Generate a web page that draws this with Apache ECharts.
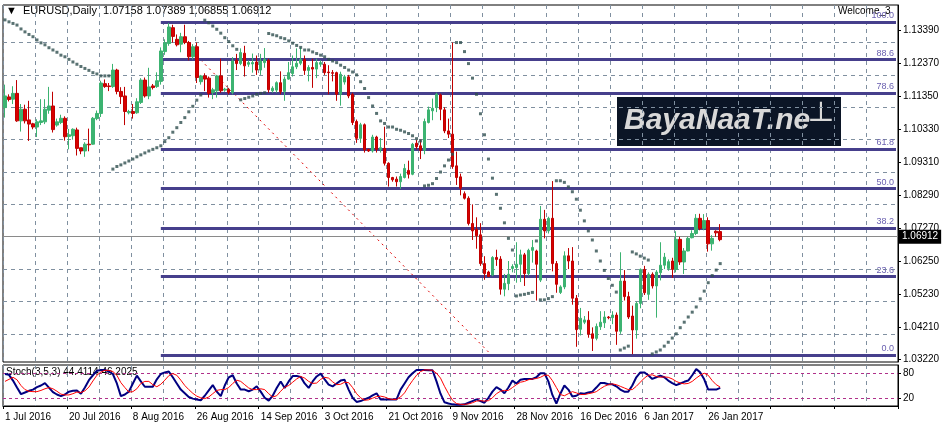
<!DOCTYPE html>
<html>
<head>
<meta charset="utf-8">
<title>EURUSD Daily</title>
<script src="https://cdn.jsdelivr.net/npm/echarts@6/dist/echarts.min.js"></script>
<style>
  html, body { margin: 0; padding: 0; background: #fff; }
  #chart { width: 945px; height: 430px; }
</style>
</head>
<body>
<div id="chart"></div>
<script>
// prices are written in pips above 1.0000 (1135 -> 1.1135)
var opens = [
  1099,1132,1125,1143,1058,1094,1061,1049,1039,1053, 1055,1091,1104,1045,1053,1066,1010,1012,1030,975,
  965,986,986,1065,1081,1173,1166,1164,1215,1149, 1135,1083,1087,1083,1115,1184,1135,1166,1164,1180,
  1272,1297,1346,1310,1295,1318,1300,1256,1287,1179, 1197,1190,1146,1151,1197,1153,1156,1146,1245,1235,
  1267,1233,1234,1240,1215,1238,1245,1151,1153,1176, 1149,1187,1204,1225,1236,1248,1214,1223,1218,1233,
  1233,1209,1207,1207,1140,1178,1194,1140,1056,1004, 1046,970,965,1008,970,973,927,883,878,870,
  883,905,893,989,981,967,1053,1089,1099,1138, 1092,1027,1017,919,885,833,819,741,723,706,
  617,591,582,636,631,538,555,602,605,615, 644,586,658,656,566,754,718,757,617,528,
  545,641,625,510,414,436,442,400,386,422, 434,452,450,458,408,563,515,455,412,494,
  599,522,584,548,589,612,602,625,599,692, 622,656,697,710,757,726,750,678,717,716
];
var closes = [
  1135,1124,1143,1058,1094,1058,1048,1039,1055,1058, 1094,1104,1031,1055,1066,1009,1015,1032,973,965,
  986,984,1066,1081,1175,1164,1164,1215,1149,1133, 1087,1087,1081,1117,1184,1135,1163,1161,1182,1274,
  1299,1348,1319,1293,1318,1300,1256,1287,1192,1197, 1187,1143,1154,1197,1151,1156,1146,1243,1235,1269,
  1228,1238,1238,1215,1243,1248,1154,1159,1176,1148, 1187,1207,1225,1236,1248,1214,1223,1218,1238,1238,
  1207,1207,1205,1140,1202,1194,1135,1053,1004,1046, 968,965,1008,970,975,927,883,876,870,886,
  911,893,986,978,967,1056,1092,1097,1140,1094, 1027,1017,917,883,850,819,741,718,703,617,
  586,577,636,630,538,556,584,608,615,644, 586,658,667,615,754,718,757,617,553,545,
  641,625,510,413,448,443,399,386,423,436, 452,450,458,408,563,515,452,412,494,599,
  527,584,548,591,612,637,623,599,692,622, 656,695,710,757,726,750,678,695,712,691
];
var highs = [
  1170,1140,1165,1184,1110,1108,1120,1052,1063,1125, 1125,1163,1148,1065,1077,1072,1033,1035,1037,975,
  992,1034,1070,1090,1182,1186,1175,1234,1219,1162, 1163,1092,1110,1128,1190,1192,1222,1172,1208,1285,
  1310,1360,1355,1325,1330,1355,1305,1295,1300,1200, 1205,1195,1160,1200,1250,1160,1160,1255,1265,1282,
  1290,1245,1266,1260,1265,1283,1250,1165,1180,1211, 1195,1240,1260,1282,1285,1260,1230,1250,1250,1245,
  1240,1230,1215,1210,1210,1200,1200,1145,1062,1052, 1050,972,1015,1012,1005,1040,930,885,886,895,
  925,935,990,1000,1000,1065,1102,1127,1145,1142, 1100,1065,1300,963,895,840,825,800,760,742,
  640,595,640,660,640,585,625,615,683,660, 650,663,690,660,795,783,762,872,625,550,
  655,665,668,520,480,455,470,420,432,470, 470,455,470,466,652,597,530,487,500,602,
  610,590,590,597,683,650,630,635,717,700, 665,700,720,770,771,770,760,705,720,739
];
var lows = [
  1068,1118,1110,1055,1025,1050,996,1032,1008,1045, 1048,1080,1022,1040,1048,997,970,1000,951,955,
  947,964,984,1060,1070,1160,1150,1160,1140,1110, 1045,1078,1065,1080,1110,1130,1125,1155,1160,1170,
  1262,1290,1300,1288,1270,1295,1245,1248,1175,1170, 1150,1130,1125,1130,1145,1148,1140,1140,1215,1230,
  1195,1225,1207,1200,1200,1222,1145,1145,1145,1140, 1120,1185,1195,1218,1230,1200,1180,1160,1190,1225,
  1200,1140,1180,1120,1105,1170,1128,1045,990,990, 960,962,960,960,960,920,855,870,855,848,
  880,880,890,970,940,955,1050,1060,1085,1060, 1020,1005,910,860,828,815,735,690,663,610,
  567,575,578,610,521,516,535,590,558,560, 548,580,620,503,560,695,710,593,527,523,
  538,600,490,360,395,430,388,347,380,412, 418,445,430,366,400,503,446,337,385,479,
  520,505,540,450,565,600,595,573,590,613, 585,655,695,705,720,720,654,657,700,686
];
var sar = [
  1370,1364,1359,1354,1342,1333,1325,1318,1308,1299, 1293,1284,1277,1270,1261,1256,1248,1240,1233,1226,
  1220,1214,1207,1203,1197,1197,1197,909,917,922, 928,934,940,947,953,959,965,970,975,981,
  994,1006,1023,1037,1053,1068,1086,1103,1122,1138, 1369,1361,1351,1341,1329,1315,1303,1290,1279,1123,
  1127,1131,1135,1140,1143,1145,1328,1324,1321,1315, 1312,1305,1298,1291,1285,1277,1277,1271,1266,1261,
  1256,1248,1243,1238,1230,1223,1215,1209,1200,1179, 1158,1130,1104,1081,1058,1050,1039,1039,1032,1029,
  1024,1019,1012,1003,996,857,859,864,880,900, 919,937,955,1300,1300,1272,1235,1190,1140,1080,
  1015,940,881,831,788,743,695,659,517,520, 522,525,528,687,505,505,509,515,873,873,
  868,854,839,816,782,749,718,690,656,625, 596,571,550,529,350,356,362,653,647,640,
  634,628,338,344,350,362,374,387,400,419, 436,452,467,483,508,532,558,580,597,617
];
var stochK = [
  78,76,62,45,29,33,37,40,46,50, 56,45,34,28,24,28,35,37,38,30,
  45,63,75,86,88,88,84,78,55,24, 28,35,55,74,60,47,47,47,65,78,
  82,84,70,55,40,31,22,18,16,14, 25,38,51,35,24,50,70,75,55,40,
  40,36,40,48,35,20,13,25,44,60, 44,60,73,73,71,55,44,60,72,79,
  65,52,48,55,62,64,40,20,10,12, 16,20,26,31,16,16,16,16,16,40,
  55,70,80,88,88,88,87,87,60,30, 9,6,4,3,3,4,8,12,16,12,
  8,20,35,46,40,31,45,62,55,64, 66,66,66,70,80,80,60,27,6,30,
  50,40,23,25,31,30,33,35,45,56, 56,53,53,48,40,35,35,50,70,82,
  82,75,66,70,74,70,62,56,51,55, 59,62,75,90,82,65,40,40,40,44.41
];
var stochD = [
  60,65,70,64,50,40,36,35,35,38, 42,45,42,36,29,27,27,30,34,33,
  37,46,61,75,83,87,87,84,75,57, 45,34,35,42,55,60,60,52,47,53,
  63,74,79,75,63,50,40,31,24,20, 18,22,30,38,40,40,45,55,63,60,
  52,44,40,40,42,40,30,22,25,36, 46,50,58,66,72,68,60,55,56,65,
  70,68,59,52,53,58,57,45,30,20, 14,15,19,23,24,22,18,16,16,22,
  32,48,62,75,84,88,88,87,80,68, 48,30,14,6,4,4,5,8,12,13,
  12,13,20,30,36,38,38,45,52,58, 60,64,66,67,70,75,75,62,45,28,
  25,30,35,32,28,28,30,32,35,42, 48,52,54,52,48,44,40,40,48,58,
  68,75,76,72,70,71,70,66,60,56, 54,55,60,68,75,80,75,62,52,46.2
];
var fibLevels = [1.0334, 1.0577, 1.0727, 1.0849, 1.0971, 1.1144, 1.1247, 1.1364];
var fibNames = ['0.0', '23.6', '38.2', '50.0', '61.8', '78.6', '88.6', '100.0'];
var priceTicks = [1.0322, 1.0421, 1.0523, 1.0625, 1.0727, 1.0829, 1.0931, 1.1033, 1.1135, 1.1237, 1.1339];
var dateLabels = ['1 Jul 2016', '20 Jul 2016', '8 Aug 2016', '26 Aug 2016', '14 Sep 2016', '3 Oct 2016',
  '21 Oct 2016', '9 Nov 2016', '28 Nov 2016', '16 Dec 2016', '6 Jan 2017', '26 Jan 2017'];
var trendFrom = ['49', 1.1246], trendTo = ['121', 1.0344];
var lastPrice = 1.06912;

function px(v) { return 1 + v / 10000; }

var slots = [];
for (var i = 0; i < 224; i++) slots.push(String(i));

var candles = opens.map(function (o, i) {
  return [px(o), px(closes[i]), px(lows[i]), px(highs[i])];
});
var sarData = sar.map(function (v, i) { return [String(i), px(v)]; });

var font = 'Liberation Sans';
var myChart = echarts.init(document.getElementById('chart'));

myChart.setOption({
  animation: false,
  backgroundColor: '#fff',
  textStyle: { fontFamily: font },
  grid: [
    { left: 3, right: 47, top: 5, height: 357, show: true, borderColor: '#000', borderWidth: 1 },
    { left: 3, right: 47, top: 365, height: 41, show: true, borderColor: '#000', borderWidth: 1 }
  ],
  xAxis: [{
    type: 'category', gridIndex: 0, data: slots,
    axisLine: { show: false }, axisTick: { show: false }, axisLabel: { show: false },
    splitLine: { show: true, interval: function (idx) { return idx % 8 === 0; },
      lineStyle: { color: '#8090a0', type: [4, 4] } }
  }, {
    type: 'category', gridIndex: 1, data: slots,
    axisLine: { lineStyle: { color: '#000' } },
    axisTick: { show: true, interval: function (idx) { return idx % 16 === 0; }, length: 3, lineStyle: { color: '#000' } },
    axisLabel: { interval: 15, align: 'left', margin: 6, fontSize: 10, color: '#000',
      formatter: function (v) { return dateLabels[Number(v) / 16] || ''; } },
    splitLine: { show: true, interval: function (idx) { return idx % 8 === 0; },
      lineStyle: { color: '#8090a0', type: [4, 4] } }
  }],
  yAxis: [{
    type: 'value', gridIndex: 0, position: 'right', min: 1.0313, max: 1.1416,
    axisLine: { show: true, lineStyle: { color: '#000' } },
    axisTick: { show: true, length: 3, customValues: priceTicks, lineStyle: { color: '#000' } },
    axisLabel: { customValues: priceTicks, fontSize: 10, color: '#000', margin: 5,
      formatter: function (v) { return v.toFixed(5); } },
    splitLine: { show: false }
  }, {
    type: 'value', gridIndex: 1, position: 'right', min: 0, max: 100,
    axisLine: { show: true, lineStyle: { color: '#000' } },
    axisTick: { show: true, length: 3, customValues: [20, 80] },
    axisLabel: { customValues: [20, 80], fontSize: 10, color: '#000', margin: 5 },
    splitLine: { show: false }
  }],
  series: [{
    name: 'grid', type: 'line', data: [], xAxisIndex: 0, yAxisIndex: 0,
    markLine: { silent: true, symbol: 'none', label: { show: false },
      lineStyle: { color: '#8090a0', type: [4, 4], width: 1 },
      data: priceTicks.map(function (v) { return { yAxis: v }; }) }
  }, {
    name: 'fib', type: 'line', data: [], xAxisIndex: 0, yAxisIndex: 0, z: 3,
    markLine: { silent: true, symbol: 'none',
      lineStyle: { color: '#463f8c', type: 'solid', width: 3 },
      label: { show: true, position: 'insideEndTop', color: '#6a60b0', fontSize: 9, distance: [2, 2],
        formatter: function (p) { return p.name; } },
      data: fibLevels.map(function (v, k) {
        return [{ name: fibNames[k], coord: ['39', v] }, { coord: ['223', v] }];
      }) }
  }, {
    name: 'trend', type: 'line', xAxisIndex: 0, yAxisIndex: 0, z: 4,
    data: [trendFrom, trendTo], symbol: 'none',
    lineStyle: { color: '#e00000', width: 1, type: [2, 4] }
  }, {
    name: 'EURUSD', type: 'candlestick', xAxisIndex: 0, yAxisIndex: 0, z: 5,
    data: candles, barWidth: 3,
    itemStyle: { color: '#3cb371', color0: '#d80000', borderColor: '#3cb371', borderColor0: '#c00000', borderWidth: 1 },
    markLine: { silent: true, symbol: 'none',
      lineStyle: { color: '#8a8a8a', type: 'solid', width: 1 },
      label: { show: true, position: 'end', backgroundColor: '#000', color: '#fff', fontSize: 10,
        padding: [2, 3], distance: 1, formatter: function () { return lastPrice.toFixed(5); } },
      data: [{ yAxis: lastPrice }] }
  }, {
    name: 'SAR', type: 'scatter', xAxisIndex: 0, yAxisIndex: 0, z: 6,
    data: sarData, symbol: 'rect', symbolSize: 3,
    itemStyle: { color: '#2f4f4f' }
  }, {
    name: 'levels', type: 'line', data: [], xAxisIndex: 1, yAxisIndex: 1,
    markLine: { silent: true, symbol: 'none', label: { show: false },
      lineStyle: { color: '#b0308a', type: [3, 3], width: 1 },
      data: [{ yAxis: 80 }, { yAxis: 20 }] }
  }, {
    name: 'K', type: 'line', xAxisIndex: 1, yAxisIndex: 1, data: stochK, symbol: 'none',
    lineStyle: { color: '#000080', width: 2 }, z: 5
  }, {
    name: 'D', type: 'line', xAxisIndex: 1, yAxisIndex: 1, data: stochD, symbol: 'none',
    lineStyle: { color: '#ff0000', width: 1 }, z: 6
  }],
  graphic: [
    { type: 'text', left: 6, top: 5, style: { text: '\u25BC  EURUSD,Daily  1.07158 1.07389 1.06855 1.06912',
      fill: '#000', font: '11px ' + font } },
    { type: 'text', left: 838, top: 6, style: { text: 'Welcome_3', fill: '#000', font: '10px ' + font } },
    { type: 'text', left: 6, top: 367, style: { text: 'Stoch(3,5,3) 44.4114 46.2025', fill: '#000', font: '10px ' + font } },
    { type: 'rect', left: 617, top: 97, shape: { width: 224, height: 49 }, style: { fill: '#0b1526' } },
    { type: 'text', left: 624, top: 106, style: { text: 'BayaNaaT.ne\u2534', fill: '#d8d8d8',
      font: 'italic bold 30px ' + font } }
  ]
});
</script>
</body>
</html>
